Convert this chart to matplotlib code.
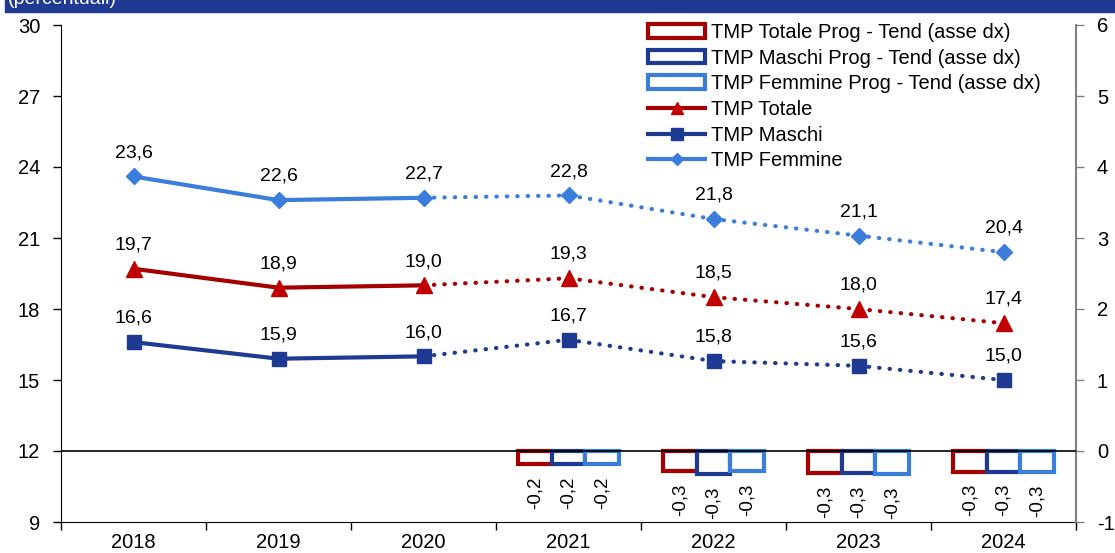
import matplotlib
matplotlib.use("Agg")
import matplotlib.pyplot as plt
from matplotlib.patches import Rectangle
from matplotlib.lines import Line2D

plt.rcParams['font.family'] = ['Liberation Sans', 'DejaVu Sans']

years = ["2018", "2019", "2020", "2021", "2022", "2023", "2024"]
tmp_totale = [19.7, 18.9, 19.0, 19.3, 18.5, 18.0, 17.4]
tmp_maschi = [16.6, 15.9, 16.0, 16.7, 15.8, 15.6, 15.0]
tmp_femmine = [23.6, 22.6, 22.7, 22.8, 21.8, 21.1, 20.4]

bar_years = ["2021", "2022", "2023", "2024"]
diff_totale = [-0.19, -0.28, -0.31, -0.29]
diff_maschi = [-0.19, -0.32, -0.31, -0.29]
diff_femmine = [-0.19, -0.28, -0.33, -0.30]

left_ticks = [9, 12, 15, 18, 21, 24, 27, 30]
right_ticks = [-1, 0, 1, 2, 3, 4, 5, 6]

c_red = "#A50000"
c_red_m = "#C00000"
c_blue = "#1F3A93"
c_light = "#3A7DDA"

W, H = 1115, 553
fig = plt.figure(figsize=(W / 100, H / 100), dpi=100)

# banner
fig.patches.append(Rectangle((5 / W, 1 - 12 / H), 1 - 5 / W, 12 / H,
                             transform=fig.transFigure, color="#1F3A93", zorder=0))
fig.text(8 / W, 1 - 4 / H, "(percentuali)", color="white", fontsize=14,
         va="baseline", ha="left")

ax = fig.add_axes([61 / W, 1 - 522 / H, (1076 - 61) / W, (522 - 25) / H])
ax2 = ax.twinx()

xs = list(range(len(years)))
fmt = lambda v: f"{v:.1f}".replace(".", ",")

series = [
    (tmp_totale, c_red, c_red_m, "^", 11, "TMP Totale"),
    (tmp_maschi, c_blue, c_blue, "s", 10, "TMP Maschi"),
    (tmp_femmine, c_light, c_light, "D", 8, "TMP Femmine"),
]
for vals, col, mcol, mk, ms, lab in series:
    ax.plot(xs[:3], vals[:3], color=col, lw=3, solid_capstyle="round", zorder=3)
    ax.plot(xs[2:], vals[2:], color=col, lw=3, linestyle=(0, (0.1, 2.4)),
            dash_capstyle="round", zorder=3)
    ax.plot(xs, vals, linestyle="none", marker=mk, ms=ms, color=mcol, zorder=4)
    for x, v in zip(xs, vals):
        ax.annotate(fmt(v), (x, v), xytext=(0, 11), textcoords="offset points",
                    ha="center", va="bottom", fontsize=14)

ax.set_xlim(-0.5, 6.5)
ax.set_ylim(9, 30)
ax.set_yticks(left_ticks)
ax.set_yticklabels([str(t) for t in left_ticks])
ax.set_xticks(xs)
ax.set_xticklabels(years)
ax.set_xticks([x + 0.5 for x in range(-1, 7)], minor=True)
ax.tick_params(axis="x", which="major", length=0, labelsize=14.5, pad=8)
ax.tick_params(axis="x", which="minor", length=6, direction="out", width=1)
ax.tick_params(axis="y", labelsize=14.5, length=6, direction="out", width=1, pad=9)
for s in ["top", "right"]:
    ax.spines[s].set_visible(False)
ax.spines["left"].set_color("black")
ax.spines["bottom"].set_color("black")

# bars on right axis
bw = 0.232
bx = [years.index(y) for y in bar_years]
for off, vals, col in [(-bw, diff_totale, c_red), (0, diff_maschi, c_blue), (bw, diff_femmine, c_light)]:
    pos = [x + off for x in bx]
    ax2.bar(pos, vals, width=bw, facecolor="white", edgecolor=col, linewidth=3, zorder=2)
    for p, v in zip(pos, vals):
        ax2.annotate(fmt(v), (p, v), xytext=(0, -9), textcoords="offset points",
                     ha="center", va="top", rotation=90, fontsize=13.5)
ax2.axhline(0, color="black", lw=1.2, zorder=5)

ax2.set_ylim(-1, 6)
ax2.set_yticks(right_ticks)
ax2.set_yticklabels([str(t) for t in right_ticks])
ax2.tick_params(axis="y", labelsize=14.5, length=6, direction="out", width=1,
                color="#808080", pad=9)
for s in ["top", "left", "bottom"]:
    ax2.spines[s].set_visible(False)
ax2.spines["right"].set_color("#808080")
ax2.spines["right"].set_linewidth(1.5)

handles = [
    Rectangle((0, 0), 1, 1, facecolor="white", edgecolor=c_red, lw=3),
    Rectangle((0, 0), 1, 1, facecolor="white", edgecolor=c_blue, lw=3),
    Rectangle((0, 0), 1, 1, facecolor="white", edgecolor=c_light, lw=3),
    Line2D([], [], color=c_red, lw=3, marker="^", ms=9, markerfacecolor=c_red_m, markeredgecolor=c_red_m),
    Line2D([], [], color=c_blue, lw=3, marker="s", ms=8),
    Line2D([], [], color=c_light, lw=3, marker="D", ms=6),
]
labels = ["TMP Totale Prog - Tend (asse dx)", "TMP Maschi Prog - Tend (asse dx)",
          "TMP Femmine Prog - Tend (asse dx)", "TMP Totale", "TMP Maschi", "TMP Femmine"]
leg = fig.legend(handles, labels, loc="upper left",
                 bbox_to_anchor=(648 / W, 1 - 23 / H), frameon=False,
                 fontsize=14.5, handlelength=2.85, handleheight=0.65,
                 labelspacing=0.33, handletextpad=0.3, borderpad=0, borderaxespad=0)

fig.savefig("out.png", dpi=100)
